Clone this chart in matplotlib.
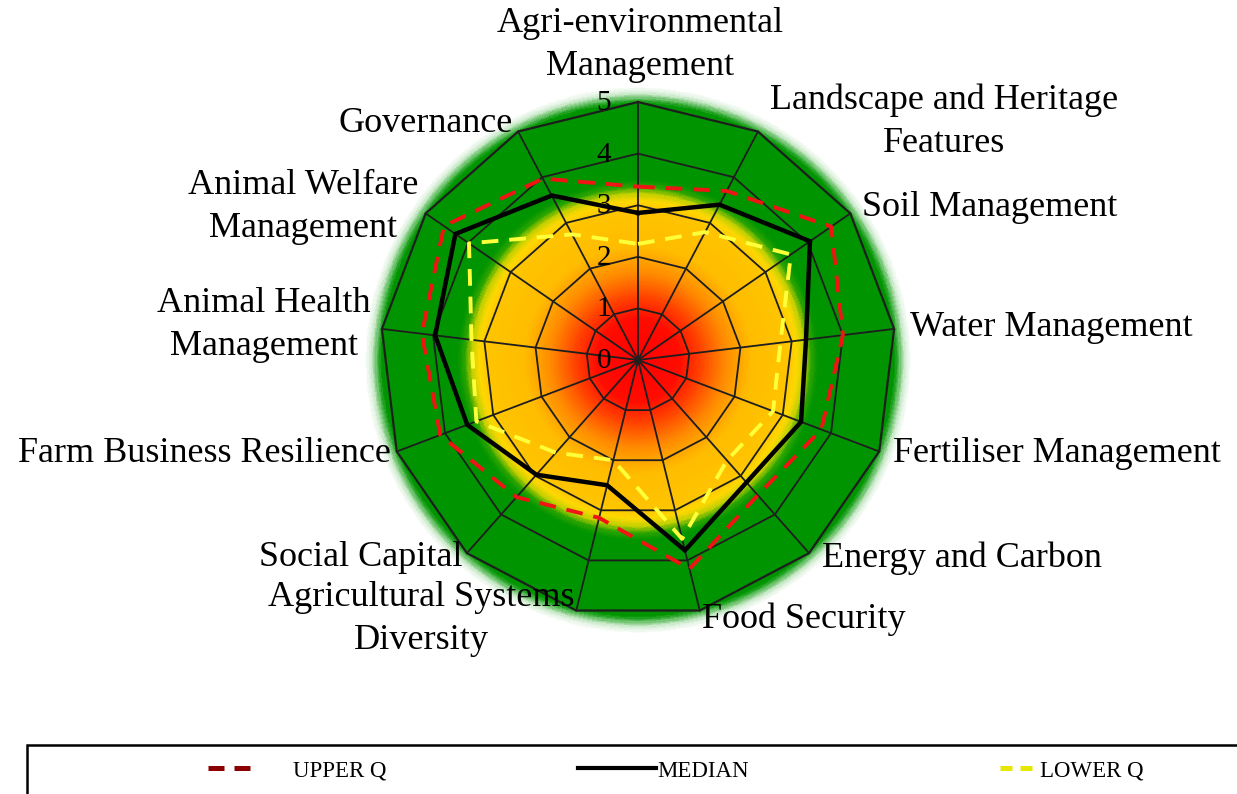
import numpy as np
import matplotlib.pyplot as plt
import matplotlib.transforms as mtransforms
from matplotlib.colors import LinearSegmentedColormap
from matplotlib.lines import Line2D
from matplotlib.patches import Rectangle

plt.rcParams['font.family'] = ['Liberation Serif', 'DejaVu Serif']

# categories, clockwise from the top
categories = ['Agri-environmental\nManagement', 'Landscape and Heritage\nFeatures',
              'Soil Management', 'Water Management', 'Fertiliser Management',
              'Energy and Carbon', 'Food Security', 'Agricultural Systems\nDiversity',
              'Social Capital', 'Farm Business Resilience', 'Animal Health\nManagement',
              'Animal Welfare\nManagement', 'Governance']
upper_q = [3.36, 3.70, 4.55, 4.00, 3.80, 3.50, 4.17, 3.15, 3.55, 4.10, 4.22, 4.57, 3.97]
median = [2.85, 3.40, 4.05, 3.28, 3.38, 3.17, 3.80, 2.50, 2.97, 3.54, 3.96, 4.30, 3.60]
lower_q = [2.25, 2.80, 3.60, 2.78, 2.80, 2.60, 3.57, 2.00, 2.40, 3.35, 3.25, 3.98, 2.75]
ring_ticks = [0, 1, 2, 3, 4, 5]

# label centres in pixels of the original picture
label_pos = [(640, 45), (944, 122), (990, 207), (1051, 327), (1057, 453),
             (962, 558), (804, 619), (421, 619), (361, 557), (204, 453),
             (264, 325), (303, 207), (426, 124)]

W, H = 1237, 794
fig = plt.figure(figsize=(W / 100, H / 100), dpi=100)

def fx(px):
    return px / W

def fy(py):
    return 1 - py / H

# polar axes placed so that centre and radius match the picture
cx, cy, unit, rmax = 638, 360, 51.6, 5.3
R = rmax * unit
ax = fig.add_axes([fx(cx - R), fy(cy + R), 2 * R / W, 2 * R / H], projection='polar')
ax.set_theta_zero_location('N')
ax.set_theta_direction(-1)
ax.set_ylim(0, rmax)
ax.set_xticks([])
ax.set_yticks([])
ax.grid(False)
ax.spines['polar'].set_visible(False)

n = len(categories)
angles = np.linspace(0, 2 * np.pi, n, endpoint=False)
closed = np.append(angles, angles[0])

def close(v):
    return np.append(v, v[0])

# radial colour background: red centre -> orange -> gold -> green, soft white edge
stops = [(0.0, '#ff0000'), (0.8, '#ff0c00'), (1.2, '#ff4000'), (1.7, '#ff8c00'),
         (2.2, '#ffbc00'), (2.9, '#ffc400'), (3.08, '#ffd800'), (3.22, '#c4d000'),
         (3.36, '#2ca400'), (3.5, '#009400'), (4.98, '#009400'), (5.07, '#5cbc5c'),
         (5.18, '#d2ecd2'), (5.3, '#ffffff')]
cmap = LinearSegmentedColormap.from_list('bg', [(r / rmax, c) for r, c in stops])
th = np.linspace(0, 2 * np.pi, 361)
rr = np.linspace(0, rmax, 319)
TH, RR = np.meshgrid(th, rr)
C = np.repeat((0.5 * (rr[:-1] + rr[1:]))[:, None], 360, axis=1)
ax.pcolormesh(TH, RR, C, cmap=cmap, vmin=0, vmax=rmax, shading='flat',
              antialiased=False, linewidth=0, zorder=0)

# polygon grid
gc = '#1e1e1e'
for k in ring_ticks[1:]:
    ax.plot(closed, [k] * (n + 1), color=gc, lw=1.3 if k < 5 else 1.6, zorder=1)
for a in angles:
    ax.plot([a, a], [0, ring_ticks[-1]], color=gc, lw=1.3, zorder=1)

off = mtransforms.offset_copy(ax.transData, fig=fig, x=-27, y=-1, units='dots')
for k in ring_ticks:
    ax.text(0, k, str(k), transform=off, ha='right', va='center', fontsize=21, zorder=2)

# series
ax.plot(closed, close(upper_q), color='#f01414', lw=2.8, dashes=(4.3, 2.8), zorder=3)
ax.plot(closed, close(median), color='black', lw=3.2, solid_joinstyle='miter', zorder=4)
ax.plot(closed, close(lower_q), color='#ffff3a', lw=2.8, dashes=(4.3, 2.8), zorder=5)

# category labels
for lab, (px, py) in zip(categories, label_pos):
    fig.text(fx(px), fy(py), lab, ha='center', va='center', fontsize=26, linespacing=1.42)

# legend strip
fig.add_artist(Rectangle((fx(27), -0.2), 1.2, fy(745) + 0.2, transform=fig.transFigure,
                         fill=False, lw=1.8, ec='black', clip_on=False))
legprop = {'size': 16.5}
h1 = Line2D([], [], color='#8b0000', lw=3.6, dashes=(3.2, 2.0))
h2 = Line2D([], [], color='black', lw=3.0)
h3 = Line2D([], [], color='#e6e600', lw=3.6, dashes=(2.4, 1.6))
common = dict(loc='center left', frameon=False, borderpad=0, borderaxespad=0, prop=legprop)
fig.legend([h1], ['UPPER Q'], bbox_to_anchor=(fx(208), fy(771)),
           handlelength=1.85, handletextpad=1.85, **common)
fig.legend([h2], ['MEDIAN'], bbox_to_anchor=(fx(578), fy(771)),
           handlelength=3.4, handletextpad=0.05, **common)
fig.legend([h3], ['LOWER Q'], bbox_to_anchor=(fx(1000), fy(771)),
           handlelength=1.4, handletextpad=0.35, **common)

fig.savefig('out.png', dpi=100)
